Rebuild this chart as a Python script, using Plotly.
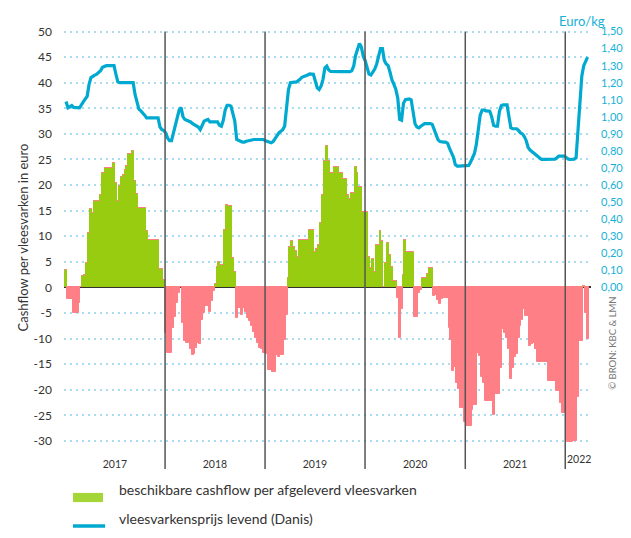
import pandas as pd
import plotly.graph_objects as go

# weekly cashflow per delivered pig (euro)
cashflow_2017 = [3.4, -2.2, -2.2, -2.2, -5.1, -5.1, -5.1, -3.0, 0.0, 2.3, 2.5, 4.8, 10.7, 15.4, 14.5, 16.8,
                 16.8, 16.8, 18.0, 22.3, 22.3, 23.4, 23.4, 23.4, 23.4, 24.4, 20.5, 16.8, 19.8, 21.5, 22.0, 22.9,
                 23.8, 26.0, 26.0, 26.6, 20.7, 18.2, 15.6, 15.6, 15.6, 15.6, 11.1, 9.2, 9.2, 9.2, 9.2, 9.2,
                 9.2, 3.5, 3.5, 1.4]
cashflow_2018 = [-9.0, -12.8, -12.8, -12.8, -8.0, -5.7, -3.0, -1.0, 0.0, -6.9, -10.4, -10.8, -10.8, -12.1, -13.2,
                 -13.1, -11.8, -10.8, -11.0, -6.3, -5.0, -3.6, -3.6, -4.8, -2.7, -0.7, 0.7, 4.0, 4.9, 4.3, 4.3,
                 11.3, 16.2, 15.9, 15.9, 5.8, 3.0, -6.0, -4.0, -4.0, -5.3, -4.0, -4.8, -6.0, -6.5, -7.5, -8.7,
                 -9.8, -10.8, -11.8, -12.0, -12.8]
cashflow_2019 = [-12.8, -13.1, -16.1, -16.1, -16.5, -16.5, -13.2, -13.6, -13.2, -13.2, -10.2, -5.4, 1.8, 7.9, 9.0,
                 7.9, 7.1, 6.0, 9.2, 9.2, 9.2, 9.2, 9.2, 11.3, 11.3, 11.3, 6.9, 7.6, 8.2, 12.5, 18.0, 24.8, 27.7,
                 24.8, 22.4, 22.4, 23.6, 23.6, 23.6, 22.4, 22.3, 21.1, 21.1, 18.0, 17.2, 18.4, 18.4, 23.6, 22.4,
                 19.7, 19.7, 14.7]
cashflow_2020 = [14.7, 14.7, 6.0, 3.7, 5.6, 3.1, 8.2, 8.2, 11.1, 9.1, 0.0, 4.7, 8.7, 6.4, 3.9, 1.2, 1.2, -2.1,
                 -9.9, -4.2, 2.5, 9.2, 7.0, 7.0, 7.0, 7.0, -5.8, -5.8, -1.0, -0.5, 1.9, 1.9, 1.9, 2.7, 3.7, 3.7,
                 -1.7, -1.5, -2.5, -3.3, -2.3, -2.0, -2.0, -2.0, -8.0, -10.2, -16.3, -15.5, -18.6, -19.9, -23.5,
                 -23.5]
cashflow_2021 = [-26.4, -27.0, -27.0, -27.0, -24.0, -23.0, -23.0, -12.8, -13.5, -17.5, -18.6, -22.2, -22.2, -22.2,
                 -22.2, -25.0, -20.9, -20.9, -20.9, -15.7, -8.2, -8.9, -9.8, -12.0, -18.0, -15.7, -13.7, -13.0,
                 -9.8, -7.6, -6.3, -4.2, -5.5, -5.5, -11.5, -11.1, -10.8, -12.1, -14.5, -14.5, -14.5, -14.5,
                 -14.5, -14.5, -18.3, -18.3, -18.3, -18.3, -20.3, -20.3, -22.6, -24.6]
cashflow_2022 = [-24.6, -25.8, -30.3, -30.3, -30.3, -30.0, -30.0, -21.5, -10.5, -10.5, 0.3, -5.0, -10.0]

# weekly live pig price (Danis), euro/kg
price_2017 = [1.09, 1.053, 1.06, 1.066, 1.055, 1.053, 1.053, 1.053, 1.07, 1.09, 1.105, 1.12, 1.19, 1.23, 1.24,
              1.245, 1.25, 1.26, 1.27, 1.29, 1.297, 1.30, 1.30, 1.30, 1.30, 1.30, 1.25, 1.205, 1.20, 1.20, 1.20,
              1.20, 1.20, 1.20, 1.20, 1.20, 1.13, 1.08, 1.045, 1.035, 1.025, 1.01, 0.994, 0.994, 0.994, 0.994,
              0.994, 0.994, 0.994, 0.94, 0.925, 0.92]
price_2018 = [0.905, 0.875, 0.86, 0.86, 0.91, 0.95, 1.01, 1.04, 1.055, 1.00, 0.984, 0.98, 0.975, 0.97, 0.96,
              0.955, 0.95, 0.94, 0.925, 0.955, 0.975, 0.98, 0.985, 0.97, 0.97, 0.97, 0.97, 0.97, 0.95, 0.945, 0.98,
              1.04, 1.068, 1.068, 1.063, 1.02, 0.975, 0.867, 0.86, 0.857, 0.852, 0.852, 0.857, 0.86, 0.863, 0.867,
              0.867, 0.867, 0.867, 0.867, 0.867, 0.867]
price_2019 = [0.86, 0.855, 0.848, 0.848, 0.855, 0.875, 0.895, 0.906, 0.915, 0.925, 0.945, 1.04, 1.16, 1.20,
              1.203, 1.203, 1.203, 1.21, 1.22, 1.232, 1.235, 1.238, 1.245, 1.252, 1.252, 1.25, 1.21, 1.17, 1.16,
              1.18, 1.22, 1.287, 1.297, 1.275, 1.266, 1.265, 1.265, 1.265, 1.265, 1.265, 1.265, 1.265, 1.265,
              1.265, 1.265, 1.27, 1.297, 1.36, 1.40, 1.43, 1.41, 1.355]
price_2020 = [1.33, 1.28, 1.25, 1.245, 1.265, 1.28, 1.31, 1.35, 1.40, 1.40, 1.33, 1.31, 1.30, 1.26, 1.215, 1.19,
              1.16, 1.11, 0.985, 0.98, 1.08, 1.10, 1.105, 1.105, 1.10, 1.02, 0.96, 0.94, 0.935, 0.945, 0.955, 0.96,
              0.96, 0.96, 0.96, 0.955, 0.92, 0.89, 0.865, 0.855, 0.852, 0.852, 0.852, 0.845, 0.815, 0.79, 0.765,
              0.72, 0.711, 0.711, 0.711, 0.711]
price_2021 = [0.711, 0.711, 0.715, 0.735, 0.76, 0.785, 0.84, 0.92, 1.01, 1.04, 1.04, 1.035, 1.033, 1.033, 1.0,
              0.95, 0.945, 0.945, 1.03, 1.065, 1.07, 1.07, 1.07, 1.0, 0.935, 0.93, 0.93, 0.93, 0.92, 0.906, 0.9,
              0.885, 0.86, 0.82, 0.805, 0.795, 0.79, 0.775, 0.765, 0.755, 0.75, 0.75, 0.75, 0.75, 0.75, 0.75,
              0.75, 0.752, 0.76, 0.77, 0.77, 0.77]
price_2022 = [0.77, 0.76, 0.752, 0.75, 0.75, 0.752, 0.76, 0.92, 1.12, 1.24, 1.30, 1.33, 1.35]

years = ["2017", "2018", "2019", "2020", "2021", "2022"]
left_ticks = [-30, -25, -20, -15, -10, -5, 0, 5, 10, 15, 20, 25, 30, 35, 40, 45, 50]
right_ticks = [0.0, 0.1, 0.2, 0.3, 0.4, 0.5, 0.6, 0.7, 0.8, 0.9, 1.0, 1.1, 1.2, 1.3, 1.4, 1.5]

GREEN = "#97cc10"
PINK = "#ff7f87"
BLUE = "#00a9d0"
BLUE_TXT = "#16b0d6"
GRID = "#a9dcee"
TXT = "#333333"
FONT = "Lato, 'Open Sans', sans-serif"

cashflow = cashflow_2017 + cashflow_2018 + cashflow_2019 + cashflow_2020 + cashflow_2021 + cashflow_2022
price = price_2017 + price_2018 + price_2019 + price_2020 + price_2021 + price_2022
weeks = pd.date_range("2017-01-04 12:00", periods=len(cashflow), freq="7D")

fig = go.Figure()
fig.add_trace(go.Bar(
    x=weeks, y=[v if v > 0 else 0 for v in cashflow],
    marker=dict(color=GREEN, line=dict(color=GREEN, width=1)), showlegend=False,
))
fig.add_trace(go.Bar(
    x=weeks, y=[v if v < 0 else 0 for v in cashflow],
    marker=dict(color=PINK, line=dict(color=PINK, width=1)), showlegend=False,
))
fig.add_trace(go.Scatter(
    x=weeks, y=price, yaxis="y2", mode="lines",
    line=dict(color=BLUE, width=3.2), showlegend=False,
))

# year separators running down into the label row
shapes = [
    dict(type="line", xref="x", yref="paper", x0=f"{y}-01-01", x1=f"{y}-01-01", y0=-0.055, y1=0.994,
         line=dict(color="#555555", width=1.5))
    for y in years[1:]
]
# hand-drawn legend keys
shapes += [
    dict(type="rect", xref="paper", yref="paper", x0=0.017, x1=0.074, y0=-0.1345, y1=-0.1125,
         fillcolor="#a3d636", line=dict(width=0)),
    dict(type="line", xref="paper", yref="paper", x0=0.017, x1=0.078, y0=-0.192, y1=-0.192,
         line=dict(color=BLUE, width=3.5)),
]

annotations = [
    dict(text="2022", xref="paper", yref="paper", x=1.003, y=-0.05, showarrow=False,
         font=dict(size=10.5, color=TXT)),
    dict(text="Euro/kg", xref="paper", yref="paper", x=1.03, y=1.043, showarrow=False,
         font=dict(size=13, color=BLUE_TXT)),
    dict(text="© BRON: KBC & LMN", xref="paper", yref="paper", x=1.055, y=0.13, showarrow=False,
         textangle=-90, font=dict(size=9.5, color="#777777")),
    dict(text="beschikbare cashflow per afgeleverd vleesvarken", xref="paper", yref="paper",
         x=0.1, y=-0.13, xanchor="left", showarrow=False, font=dict(size=14, color=TXT)),
    dict(text="vleesvarkensprijs levend (Danis)", xref="paper", yref="paper",
         x=0.1, y=-0.199, xanchor="left", showarrow=False, font=dict(size=14, color=TXT)),
]

# the page body adds an 8px offset, so the figure is 8px smaller than the window
fig.update_layout(
    width=623, height=530,
    margin=dict(l=56, r=40, t=21, b=92),
    paper_bgcolor="white", plot_bgcolor="white",
    font=dict(family=FONT, color=TXT),
    separators=",.",
    barmode="relative", bargap=0,
    shapes=shapes, annotations=annotations,
    xaxis=dict(
        type="date", range=["2016-12-28", "2022-04-05"], automargin=False,
        tickvals=[f"{y}-07-02" for y in years[:-1]], ticktext=years[:-1],
        showgrid=False, zeroline=False, showline=False, ticks="",
        ticklabelstandoff=10, tickfont=dict(size=10.5, color=TXT),
    ),
    yaxis=dict(
        range=[-31, 50.5], automargin=False, tickvals=left_ticks, ticktext=[str(v) for v in left_ticks],
        showgrid=True, gridcolor=GRID, gridwidth=1.6, griddash="2px,4px",
        zeroline=True, zerolinecolor="#333333", zerolinewidth=1.5,
        ticks="", ticklabelstandoff=11, tickfont=dict(size=12, color=TXT),
        title=dict(text="Cashflow per vleesvarken in euro", font=dict(size=13, color=TXT), standoff=2),
    ),
    yaxis2=dict(
        range=[-0.93, 1.515], automargin=False, overlaying="y", side="right",
        tickvals=right_ticks, tickformat=".2f",
        showgrid=False, zeroline=False, ticks="", ticklabelstandoff=9,
        tickfont=dict(size=11, color=BLUE_TXT),
    ),
)

fig.write_html("out.html")
